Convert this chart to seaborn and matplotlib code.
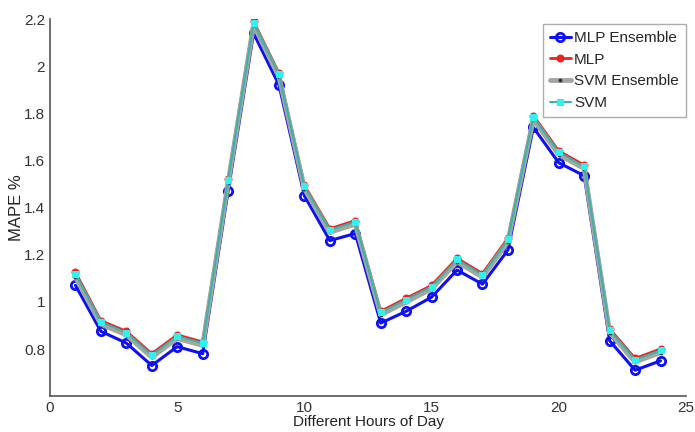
import numpy as np
import pandas as pd
import matplotlib
matplotlib.use("Agg")
import matplotlib.pyplot as plt
import seaborn as sns

# ore del giorno
hours = list(range(1, 25))

# valori MAPE
mlp_ensemble = [1.07, 0.875, 0.825, 0.73, 0.81, 0.78, 1.47, 2.14, 1.92, 1.45, 1.26, 1.29,
                0.91, 0.96, 1.02, 1.135, 1.075, 1.22, 1.74, 1.59, 1.535, 0.835, 0.71, 0.75]
mlp = [1.125, 0.92, 0.875, 0.78, 0.86, 0.83, 1.52, 2.19, 1.97, 1.495, 1.31, 1.345,
       0.96, 1.015, 1.07, 1.185, 1.12, 1.27, 1.79, 1.64, 1.58, 0.885, 0.76, 0.80]
svm_ensemble = [1.105, 0.905, 0.86, 0.765, 0.845, 0.815, 1.505, 2.175, 1.955, 1.48, 1.295, 1.33,
                0.945, 1.0, 1.055, 1.17, 1.105, 1.255, 1.775, 1.625, 1.565, 0.87, 0.745, 0.785]
svm = [1.12, 0.915, 0.87, 0.775, 0.855, 0.825, 1.515, 2.185, 1.965, 1.49, 1.305, 1.34,
       0.955, 1.01, 1.065, 1.18, 1.115, 1.265, 1.785, 1.635, 1.575, 0.88, 0.755, 0.795]

sns.set_theme(style="white")
plt.rcParams['font.family'] = ['Liberation Sans', 'DejaVu Sans']

fig = plt.figure(figsize=(6.95, 4.32), dpi=100)
ax = fig.add_axes([0.072, 0.083, 0.915, 0.873])

# disegno le quattro serie
sns.lineplot(x=hours, y=mlp_ensemble, ax=ax, color="#1010ee", lw=2.2, marker="o",
             markersize=6, markerfacecolor="none", markeredgecolor="#1010ee", markeredgewidth=2.0,
             label="MLP Ensemble")
sns.lineplot(x=hours, y=mlp, ax=ax, color="#ee2020", lw=2.0, marker="o",
             markersize=5, markerfacecolor="#ee2020", markeredgecolor="#ee2020",
             label="MLP")
sns.lineplot(x=hours, y=svm_ensemble, ax=ax, color="#a0a8a0", lw=3.5, marker=".",
             markersize=4, markerfacecolor="#303030", markeredgecolor="#303030",
             label="SVM Ensemble")
sns.lineplot(x=hours, y=svm, ax=ax, color="#40b0a8", lw=1.5, marker="s",
             markersize=4, markerfacecolor="#30f0f0", markeredgecolor="#30f0f0",
             label="SVM")

ax.set_xlim(0, 25)
ax.set_ylim(0.6, 2.2)
ax.set_xticks([0, 5, 10, 15, 20, 25])
ax.set_yticks([0.8, 1, 1.2, 1.4, 1.6, 1.8, 2, 2.2])
ax.set_yticklabels(["0.8", "1", "1.2", "1.4", "1.6", "1.8", "2", "2.2"])
ax.tick_params(direction="in", length=4, labelsize=11, colors="#333333")
ax.set_xlabel("Different Hours of Day", fontsize=11, labelpad=0, color="#222222")
ax.set_ylabel("MAPE %", fontsize=12, color="#222222", labelpad=0)
for s in ["top", "right"]:
    ax.spines[s].set_visible(False)
for s in ["left", "bottom"]:
    ax.spines[s].set_color("#555555")
    ax.spines[s].set_linewidth(1.2)

leg = ax.legend(loc="upper right", bbox_to_anchor=(1.002, 0.99), fontsize=11, frameon=True,
                fancybox=False, handlelength=1.4, handletextpad=0.2, borderpad=0.45,
                labelspacing=0.5, borderaxespad=0.1)
leg.get_frame().set_edgecolor("#999999")

fig.savefig("out.png", dpi=100)
